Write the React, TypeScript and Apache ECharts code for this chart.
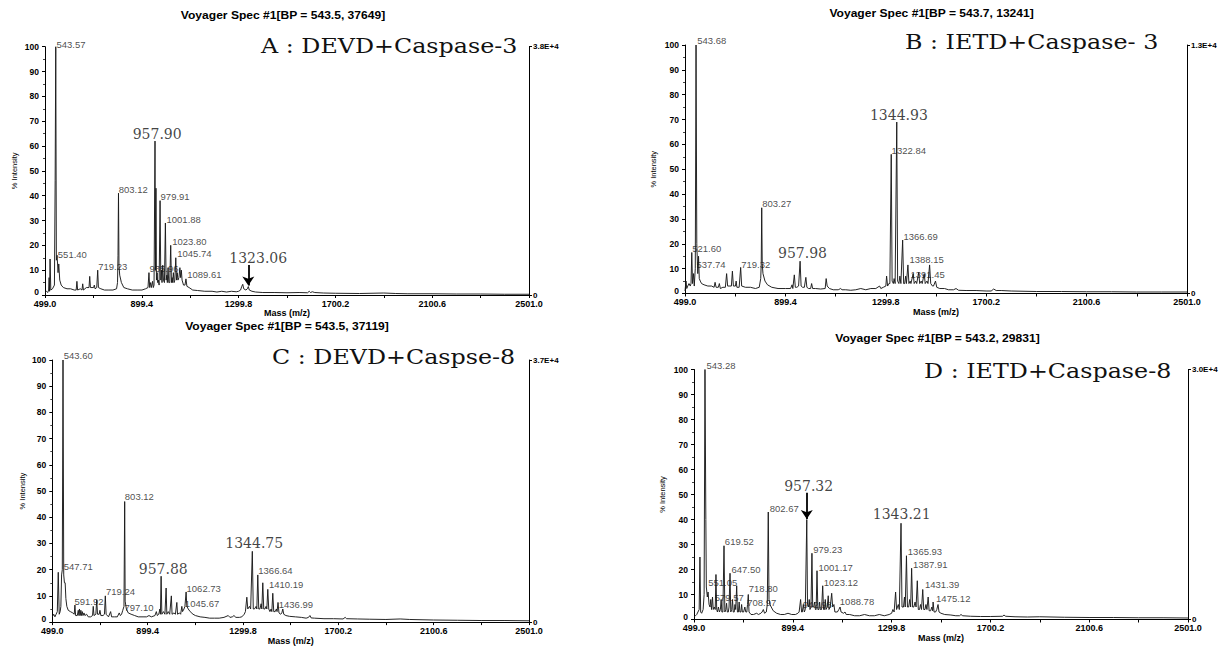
import React, { useEffect, useRef } from "react";
import * as echarts from "echarts";

// ---------- tick / axis text ----------
const xTickLabels = [499.0, 899.4, 1299.8, 1700.2, 2100.6, 2501.0];
const xTickMarks = [499.0, 699.2, 899.4, 1099.6, 1299.8, 1500.0, 1700.2, 1900.4, 2100.6, 2300.8, 2501.0];
const rightAxisTicks = [0, 100];
const fullScaleLabels = ["3.8E+4", "1.3E+4", "3.7E+4", "3.0E+4"];
const specTitles = [
  "Voyager Spec #1[BP = 543.5, 37649]",
  "Voyager Spec #1[BP = 543.7, 13241]",
  "Voyager Spec #1[BP = 543.5, 37119]",
  "Voyager Spec #1[BP = 543.2, 29831]",
];
const panelNames = ["A : DEVD+Caspase-3", "B : IETD+Caspase- 3", "C : DEVD+Caspse-8", "D : IETD+Caspase-8"];

// ---------- spectra: [m/z, % intensity] ----------
const spectrumA: [number, number][] = [
  [499, 1], [505, 1.5], [510, 1], [514, 2], [516, 7], [518, 1.5], [520, 14.5], [523, 2], [530, 2.5], [538, 4],
  [541, 46], [543.5, 100], [546, 14], [549, 16], [553, 9], [556, 12.5], [560, 6], [566, 4], [575, 3], [590, 2.5],
  [605, 2.5], [620, 2], [628, 2], [631, 5.5], [634, 2], [645, 2.5], [652, 2], [655, 4.5], [658, 2], [670, 3],
  [681, 3], [684, 7.5], [687, 3], [700, 3], [703, 4], [706, 2.5], [713, 3], [717, 10], [720, 3], [730, 2.5],
  [745, 2], [760, 2], [780, 2], [795, 2.5], [799, 5], [801, 16], [803, 41], [805, 12], [808, 8], [815, 5],
  [825, 3], [840, 2.5], [860, 2], [880, 2], [900, 2], [915, 2.5], [925, 3], [929, 9], [932, 3], [936, 5],
  [939, 3], [944, 5.5], [947, 3], [950, 4], [954, 62], [956, 10], [958, 43], [960, 6], [963, 9], [965, 5],
  [968, 6], [971, 4], [975, 38], [978, 6], [981, 10], [983, 5], [986, 12], [989, 6], [993, 5], [997, 29],
  [1000, 6], [1003, 8], [1005, 5], [1008, 11], [1011, 5], [1015, 5], [1019, 20], [1022, 5], [1025, 7], [1027, 5],
  [1030, 9], [1033, 5], [1036, 6], [1040, 15], [1043, 6], [1046, 9], [1049, 6], [1053, 7], [1057, 11], [1060, 7],
  [1063, 10], [1066, 6], [1072, 4], [1078, 4], [1082, 6.5], [1086, 3.5], [1095, 3], [1110, 2], [1130, 1.8], [1160, 1.5],
  [1190, 1.5], [1210, 1.2], [1230, 1.5], [1250, 1.2], [1270, 1.5], [1290, 1.3], [1300, 1.5], [1308, 2], [1313, 3.5],
  [1317, 4.3], [1321, 2.5], [1330, 2], [1336, 2.5], [1340, 3.4], [1344, 2], [1355, 1.5], [1370, 1.2], [1400, 1],
  [1450, 1], [1500, 0.9], [1550, 1], [1585, 0.9], [1592, 1.5], [1597, 1], [1605, 1.3], [1615, 1], [1650, 0.8],
  [1700, 0.7], [1800, 0.6], [1900, 0.8], [1950, 0.6], [2000, 0.5], [2100, 0.5], [2200, 0.4], [2300, 0.4], [2400, 0.3],
  [2501, 0.3],
];

const spectrumB: [number, number][] = [
  [499, 1], [503, 5], [506, 2], [510, 3], [515, 4], [520, 3], [523, 4], [526, 16.5], [529, 4], [533, 8],
  [536, 3], [540, 10], [543, 100], [546, 20], [550, 8], [553, 15], [556, 6], [560, 5], [565, 4], [575, 3.5],
  [590, 3], [605, 3], [615, 2.5], [619, 4.5], [623, 2.5], [632, 2.5], [636, 4], [640, 2], [650, 2.5], [660, 2.5],
  [665, 8], [669, 3], [678, 3], [684, 3], [688, 9], [692, 3], [700, 3], [703, 5], [706, 2.5], [715, 2.5],
  [721, 10.5], [725, 3], [740, 2.5], [760, 2.5], [780, 2], [795, 2.5], [801, 6], [803, 12], [805, 34.5], [807, 12],
  [810, 8], [818, 5], [828, 3.5], [845, 2.5], [870, 2], [900, 2], [920, 2], [926, 3.5], [929, 2], [935, 7.5],
  [939, 2.5], [945, 2.5], [952, 3], [958, 13], [962, 3], [968, 2.5], [975, 2.5], [981, 6.5], [985, 2.5], [992, 2],
  [1000, 2], [1004, 4], [1008, 2], [1020, 2], [1040, 1.8], [1058, 2], [1062, 6], [1066, 3], [1075, 2], [1090, 1.5],
  [1110, 1.5], [1120, 2], [1125, 1.5], [1140, 1.5], [1160, 1.3], [1180, 1.5], [1200, 2], [1220, 1.5], [1240, 2], [1260, 2],
  [1275, 3], [1280, 2], [1290, 2.5], [1300, 3], [1303, 7], [1307, 3], [1312, 4], [1316, 4], [1321.5, 56], [1325, 5],
  [1330, 4], [1333, 6], [1337, 4], [1343.5, 69], [1347, 5], [1352, 4], [1356, 7], [1360, 4], [1367, 21.5], [1371, 4],
  [1375, 4], [1379, 7], [1382, 4], [1388, 11.5], [1392, 4], [1397, 5], [1400, 4], [1409, 8], [1413, 4], [1419, 5],
  [1423, 4], [1431, 8.5], [1435, 4], [1441, 5], [1445, 4], [1453, 8], [1457, 4], [1464, 5], [1468, 4], [1474.5, 11.5],
  [1479, 4], [1486, 3], [1490, 3], [1498, 5], [1503, 2.5], [1515, 2], [1534, 2], [1550, 1.5], [1570, 1.5], [1580, 2],
  [1590, 1.3], [1620, 1.2], [1660, 1.2], [1700, 1], [1720, 1], [1730, 1.8], [1740, 1.2], [1760, 1.2], [1800, 1], [1900, 0.8],
  [2000, 0.8], [2100, 0.7], [2200, 0.7], [2300, 0.6], [2400, 0.6], [2501, 0.6],
];

const spectrumC: [number, number][] = [
  [499, 2], [505, 3], [510, 2], [515, 3], [520, 4], [524, 19], [528, 3], [532, 4], [535, 6], [538, 18],
  [541, 20], [544, 100], [547, 18], [550, 15], [553, 15], [556, 9], [560, 6], [566, 4.5], [575, 4], [585, 3.5],
  [591, 3], [594, 6.5], [597, 2.5], [604, 2.5], [608, 4.5], [611, 2.5], [613, 5], [616, 2.5], [619, 4.5], [622, 2.5],
  [625, 4], [628, 2.5], [632, 3.5], [636, 2.5], [643, 3], [650, 2], [660, 2], [668, 2.5], [671, 6], [674, 2.5],
  [682, 3], [685.5, 8.5], [689, 3], [696, 3], [699, 4.5], [703, 2.5], [712, 2.5], [718, 3], [721.7, 10], [725, 3],
  [735, 2], [744, 4], [748, 2], [760, 2], [772, 2], [780, 3.5], [785, 2.5], [790, 3], [795, 4.5], [800, 6],
  [803, 46], [805, 8], [810, 5], [818, 3.5], [830, 3], [845, 2.5], [860, 2], [880, 2], [895, 2], [905, 2.5],
  [915, 2], [930, 2.5], [936, 4], [940, 2.5], [946, 3], [951, 5], [953, 3], [956, 17.5], [959, 3], [966, 4],
  [972, 3], [977, 13], [980, 3], [986, 4], [992, 3], [999, 10], [1002, 3], [1010, 3.5], [1016, 3], [1022, 7.5],
  [1025, 3], [1033, 3.5], [1038, 3], [1043, 6], [1046, 4], [1052, 5], [1056, 6], [1061, 11.5], [1064, 6], [1070, 5],
  [1078, 4], [1090, 3], [1100, 2.5], [1120, 2], [1140, 1.8], [1160, 1.5], [1180, 1.5], [1200, 1.5], [1220, 1.8], [1238, 2.5],
  [1245, 1.8], [1255, 2], [1262, 2.5], [1270, 1.8], [1285, 1.8], [1295, 2], [1305, 3], [1310, 4], [1316, 9.5], [1320, 5],
  [1327, 6], [1332, 5], [1339, 27], [1343, 5], [1348, 5], [1355, 6], [1358, 5], [1362, 18], [1366, 5], [1371, 5],
  [1376, 7], [1379, 5], [1383, 15], [1387, 5], [1392, 5], [1397, 6], [1400, 5], [1404, 12.5], [1408, 5], [1413, 4],
  [1418, 5], [1421, 4], [1425, 11], [1429, 4], [1435, 4], [1440, 5], [1443, 4], [1447, 7.5], [1451, 3.5], [1458, 3],
  [1463, 3.5], [1467, 5], [1471, 3], [1480, 2.5], [1495, 2.2], [1520, 2], [1545, 1.8], [1565, 1.5], [1575, 1.8], [1581, 2.5],
  [1586, 1.6], [1600, 1.5], [1640, 1.3], [1680, 1.3], [1720, 1.2], [1729, 1.8], [1735, 1.3], [1780, 1.2], [1830, 1.1], [1900, 1],
  [1960, 1.2], [2000, 1], [2100, 0.8], [2200, 0.7], [2300, 0.6], [2400, 0.6], [2501, 0.5],
];

const spectrumD: [number, number][] = [
  [499, 1], [505, 1.5], [510, 2], [515, 3], [520, 4], [523, 25], [526, 3], [530, 2.5], [536, 4], [540, 10],
  [543.5, 100], [547, 40], [549, 13], [553, 9], [556, 11], [560, 6], [564, 5], [567, 8], [570, 4], [574, 9],
  [577, 4], [581, 5], [585, 4], [588, 18], [591, 4], [594, 3], [598, 5], [602, 3], [606, 4], [609, 8],
  [612, 3], [616, 3], [620.6, 29.5], [624, 3], [628, 4], [631, 6.5], [634, 3], [638, 3], [641, 5], [645, 18.5],
  [648, 3], [652, 4], [655, 8], [658, 3], [662, 3], [665, 6], [668, 4], [672, 13.5], [675, 3], [679, 3],
  [682, 7], [685, 3], [689, 3], [692, 6], [695, 3], [700, 3], [705, 5], [709, 3], [713, 3], [716, 6],
  [719, 10], [722, 3], [730, 2], [740, 2], [753, 2.5], [760, 2], [770, 2.5], [775, 3], [780, 4], [785, 2.5],
  [792, 3], [796, 6], [800, 43], [803, 8], [807, 6], [812, 5], [820, 3.5], [834, 2.5], [850, 2], [865, 2],
  [880, 2.5], [895, 2], [910, 2], [920, 2.5], [925, 3], [931, 8], [935, 3], [938, 3], [942, 6], [946, 3],
  [950, 4], [956, 40], [959, 6], [963, 5], [966, 8], [969, 4], [973, 5], [977, 26.5], [980, 5], [984, 5],
  [988, 7], [991, 4], [994, 4], [997.5, 19.5], [1001, 4], [1005, 4], [1008, 7], [1011, 4], [1016, 4], [1020.6, 13.5],
  [1024, 4], [1028, 4], [1031, 8], [1034, 4], [1039, 5], [1043, 9.5], [1046, 4], [1051, 5], [1057, 10.5], [1061, 5],
  [1066, 6], [1070, 3], [1080, 3], [1086, 4], [1091, 5], [1095, 3], [1105, 2.5], [1111, 3], [1116, 2], [1130, 2],
  [1150, 1.5], [1170, 1.5], [1190, 2], [1210, 1.5], [1230, 1.5], [1250, 2], [1270, 1.5], [1290, 2], [1300, 2.5], [1305, 4],
  [1310, 3], [1316, 11], [1320, 4], [1327, 6], [1331, 4], [1338, 38.5], [1342, 5], [1348, 5], [1352, 9], [1355, 5],
  [1360, 25.5], [1364, 5], [1369, 5], [1373, 8], [1377, 5], [1381, 20.5], [1385, 5], [1390, 5], [1395, 7], [1399, 5],
  [1404, 15.5], [1408, 4], [1413, 4], [1417, 6], [1421, 4], [1426, 12], [1430, 4], [1435, 4], [1439, 6], [1443, 4],
  [1448, 9], [1452, 3.5], [1458, 3.5], [1463, 5], [1466, 3.5], [1468, 7], [1472, 3], [1478, 3], [1483, 4], [1488, 6],
  [1492, 3], [1500, 2.5], [1515, 2], [1540, 1.8], [1560, 1.5], [1575, 1.5], [1581, 2], [1588, 1.5], [1620, 1.3], [1660, 1.2],
  [1700, 1.2], [1750, 1.3], [1755, 1.8], [1762, 1.3], [1800, 1.1], [1850, 1], [1900, 1.1], [2000, 0.9], [2100, 0.8], [2200, 0.8],
  [2300, 0.7], [2400, 0.7], [2501, 0.6],
];

// ---------- peak annotations: [text, m/z anchor, % intensity anchor] ----------
const smallLabelsA: [string, number, number][] = [
  ["543.57", 544.5, 101], ["551.40", 550, 16.5], ["719.23", 717, 11.3], ["803.12", 802, 42.4], ["979.91", 975, 39.7],
  ["1001.88", 999.5, 30.3], ["1023.80", 1023, 21.7], ["1045.74", 1044, 16.7], ["935.96", 929, 10.7], ["1089.61", 1085, 8.4],
];
const bigLabelsA: [string, number, number][] = [["957.90", 963, 64.8], ["1323.06", 1381, 15.1]];
const arrowsA: [number, number, number][] = [[1340, 12.1, 3.8]];

const smallLabelsB: [string, number, number][] = [
  ["543.68", 545.6, 101.7], ["521.60", 526, 18.3], ["537.74", 543, 11.6], ["719.32", 721, 11.6], ["803.27", 805, 36.1],
  ["1322.84", 1321, 57.7], ["1366.69", 1368, 23.1], ["1388.15", 1392, 13.7], ["1391.45", 1396, 7.8],
];
const bigLabelsB: [string, number, number][] = [["957.98", 967.6, 16.2], ["1344.93", 1352, 71.8]];
const arrowsB: [number, number, number][] = [];

const smallLabelsC: [string, number, number][] = [
  ["543.60", 545, 101.9], ["547.71", 545, 21.3], ["591.92", 590, 7.9], ["719.24", 722, 11.7], ["797.10", 800, 5.6],
  ["803.12", 801.5, 48], ["1062.73", 1060.7, 12.9], ["1045.67", 1053.6, 7], ["1366.64", 1362, 19.8], ["1410.19", 1406.5, 14.2],
  ["1436.99", 1448, 6.6],
];
const bigLabelsC: [string, number, number][] = [["957.88", 965, 20.4], ["1344.75", 1347, 30.1]];
const arrowsC: [number, number, number][] = [];

const smallLabelsD: [string, number, number][] = [
  ["543.28", 547.6, 101.7], ["619.52", 622, 31.3], ["647.50", 649, 20.1], ["551.05", 554.5, 14.7], ["579.57", 581, 9],
  ["718.80", 719, 12.5], ["708.97", 712.6, 7], ["802.67", 804, 44.3], ["979.23", 980, 28], ["1001.17", 1001.6, 21],
  ["1023.12", 1023, 15], ["942.98", 938, 6.1], ["1088.78", 1088, 7.3], ["1365.93", 1363.5, 27.2], ["1387.91", 1385, 22],
  ["1431.39", 1433, 13.9], ["1475.12", 1478, 8.6],
];
const bigLabelsD: [string, number, number][] = [["957.32", 963.8, 53.3], ["1343.21", 1340.8, 42.4]];
const arrowsD: [number, number, number][] = [[956, 50.7, 40.2]];

const spectra = [spectrumA, spectrumB, spectrumC, spectrumD];
const smallLabels = [smallLabelsA, smallLabelsB, smallLabelsC, smallLabelsD];
const bigLabels = [bigLabelsA, bigLabelsB, bigLabelsC, bigLabelsD];
const arrows = [arrowsA, arrowsB, arrowsC, arrowsD];

// ---------- layout (pixels) ----------
const panels = [
  { left: 45, top: 46.7, width: 484, height: 248.3, yNameGap: 26.5, title: [283, 15], name: [261, 46] },
  { left: 685, top: 45, width: 502, height: 248.5, yNameGap: 28, title: [931.6, 13.3], name: [905, 42.5] },
  { left: 52.3, top: 360, width: 476.7, height: 266, yNameGap: 25.5, title: [287, 326.5], name: [272, 357] },
  { left: 694, top: 369.5, width: 494, height: 250, yNameGap: 27.5, title: [937.5, 338], name: [924, 371] },
];

const SANS = '"Liberation Sans", Arial, Helvetica, sans-serif';
const SERIF = '"DejaVu Serif", "Liberation Serif", serif';
const INK = "#111";

function buildOption() {
  const grid = panels.map((p) => ({ left: p.left, top: p.top, width: p.width, height: p.height, containLabel: false }));
  const xAxis = panels.map((_, i) => ({
    gridIndex: i,
    type: "value",
    min: 499,
    max: 2501,
    axisLine: { show: true, onZero: false, lineStyle: { color: "#000", width: 1 } },
    axisTick: { show: true, length: 3, customValues: xTickMarks, lineStyle: { color: "#000" } },
    axisLabel: {
      customValues: xTickLabels,
      formatter: (v: number) => v.toFixed(1),
      fontSize: 9,
      fontWeight: "bold",
      fontFamily: SANS,
      color: "#000",
      margin: 4,
      hideOverlap: false,
    },
    splitLine: { show: false },
    name: "Mass (m/z)",
    nameLocation: "middle",
    nameGap: 13,
    nameTextStyle: { fontSize: 9, fontWeight: "bold", fontFamily: SANS, color: "#000" },
  }));
  const yAxis: any[] = [];
  panels.forEach((p, i) => {
    yAxis.push({
      gridIndex: i,
      type: "value",
      position: "left",
      min: 0,
      max: 100,
      interval: 10,
      axisLine: { show: true, onZero: false, lineStyle: { color: "#000", width: 1 } },
      axisTick: { show: true, length: 3, lineStyle: { color: "#000" } },
      minorTick: { show: true, splitNumber: 2, length: 2, lineStyle: { color: "#444" } },
      axisLabel: {
        fontSize: 8.5,
        fontWeight: "bold",
        fontFamily: SANS,
        color: "#000",
        margin: 6,
        formatter: (v: number) => (v === 0 ? "{z|0}" : String(v)),
        rich: { z: { fontSize: 8.5, fontWeight: "bold", fontFamily: SANS, color: "#000", padding: [0, 0, 6, 0] } },
      },
      splitLine: { show: false },
      name: "% Intensity",
      nameLocation: "middle",
      nameRotate: 90,
      nameGap: p.yNameGap,
      nameTextStyle: { fontSize: 7.5, fontFamily: SANS, color: "#000" },
    });
    yAxis.push({
      gridIndex: i,
      type: "value",
      position: "right",
      min: 0,
      max: 100,
      axisLine: { show: true, onZero: false, lineStyle: { color: "#000", width: 1 } },
      axisTick: { show: true, length: 3, customValues: rightAxisTicks, lineStyle: { color: "#000" } },
      axisLabel: {
        customValues: rightAxisTicks,
        formatter: (v: number) => (v === 0 ? "0" : fullScaleLabels[i]),
        fontSize: 8,
        fontWeight: "bold",
        fontFamily: SANS,
        color: "#000",
        margin: 4,
      },
      splitLine: { show: false },
    });
  });

  const series: any[] = [];
  panels.forEach((_, i) => {
    series.push({
      type: "line",
      xAxisIndex: i,
      yAxisIndex: i * 2,
      data: spectra[i],
      showSymbol: false,
      symbol: "none",
      silent: true,
      lineStyle: { color: "#1a1a1a", width: 0.95 },
      emphasis: { disabled: true },
      markLine: arrows[i].length
        ? {
            silent: true,
            symbol: ["none", "arrow"],
            symbolSize: 9,
            label: { show: false },
            lineStyle: { color: "#000", width: 1.8, type: "solid" },
            emphasis: { disabled: true },
            data: arrows[i].map((a) => [{ coord: [a[0], a[1]] }, { coord: [a[0], a[2]] }]),
          }
        : undefined,
    });
    series.push({
      type: "scatter",
      xAxisIndex: i,
      yAxisIndex: i * 2,
      clip: false,
      silent: true,
      symbolSize: 1,
      itemStyle: { color: "rgba(0,0,0,0)" },
      emphasis: { disabled: true },
      data: smallLabels[i].map((l) => ({ name: l[0], value: [l[1], l[2]] })),
      label: {
        show: true,
        position: "right",
        distance: 0,
        formatter: "{b}",
        fontSize: 9.5,
        fontFamily: SANS,
        color: "#1a1a1a",
      },
    });
    series.push({
      type: "scatter",
      xAxisIndex: i,
      yAxisIndex: i * 2,
      clip: false,
      silent: true,
      symbolSize: 1,
      itemStyle: { color: "rgba(0,0,0,0)" },
      emphasis: { disabled: true },
      data: bigLabels[i].map((l) => ({ name: l[0], value: [l[1], l[2]] })),
      label: {
        show: true,
        position: "inside",
        formatter: "{b}",
        fontSize: 14,
        fontFamily: SERIF,
        color: "#111",
      },
    });
  });

  const graphic: any[] = [];
  panels.forEach((p, i) => {
    graphic.push({
      type: "text",
      x: p.title[0],
      y: p.title[1],
      scaleX: 1.15,
      silent: true,
      style: {
        text: specTitles[i],
        fontSize: 10.5,
        fontWeight: "bold",
        fontFamily: SANS,
        fill: "#000",
        align: "center",
        verticalAlign: "middle",
      },
    });
    graphic.push({
      type: "text",
      x: p.name[0],
      y: p.name[1],
      scaleX: 1.22,
      silent: true,
      style: {
        text: panelNames[i],
        fontSize: 19.5,
        fontFamily: SERIF,
        fill: INK,
        align: "left",
        verticalAlign: "middle",
      },
    });
  });

  return {
    animation: false,
    backgroundColor: "#ffffff",
    grid,
    xAxis,
    yAxis,
    series,
    graphic,
  };
}

export default function App() {
  const ref = useRef<HTMLDivElement>(null);
  useEffect(() => {
    if (!ref.current) return;
    const chart = echarts.init(ref.current, null, { renderer: "svg" });
    chart.setOption(buildOption() as any);
    return () => chart.dispose();
  }, []);
  return (
    <div
      ref={ref}
      style={{ position: "absolute", left: 0, top: 0, width: 1225, height: 646, background: "#fff" }}
    />
  );
}
